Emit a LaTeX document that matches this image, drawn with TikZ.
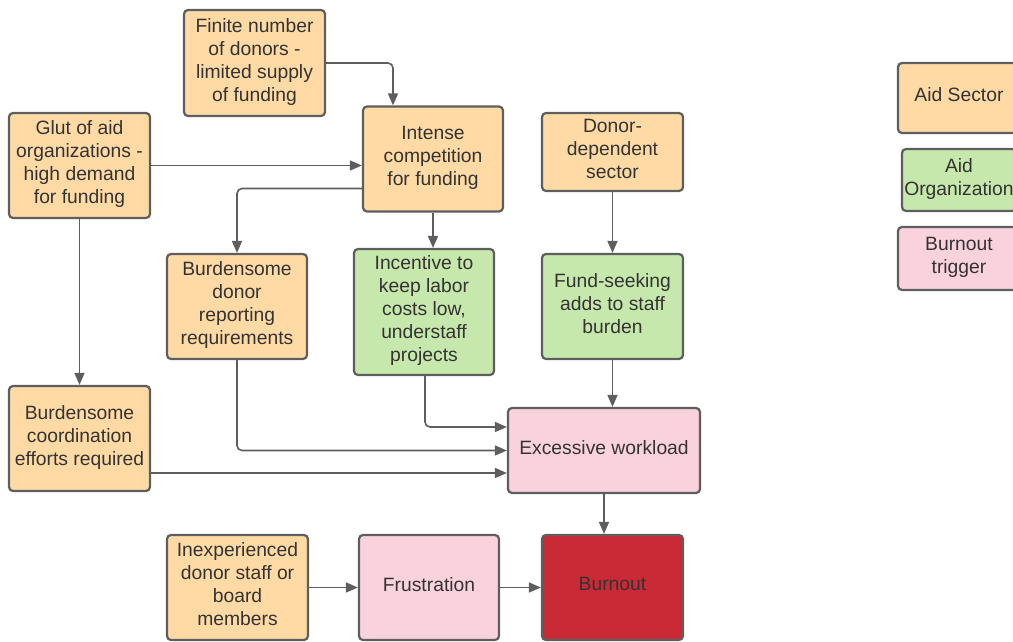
\documentclass[tikz,border=0pt]{standalone}
\usepackage{fontspec}
\setmainfont{Liberation Sans}
\usetikzlibrary{arrows.meta}
\definecolor{orangef}{HTML}{FFDAA5}
\definecolor{greenf}{HTML}{C7E8AC}
\definecolor{pinkf}{HTML}{F9D2DE}
\definecolor{redf}{HTML}{C92A36}
\definecolor{bord}{HTML}{5E5E5E}
\definecolor{txt}{HTML}{333333}
\tikzset{
  box/.style={draw=bord, line width=2.2pt, rounded corners=4pt, align=center, inner sep=0pt,
    font=\fontsize{19.3}{23}\selectfont, text=txt, text depth=6.5pt},
  sec/.style={box, fill=orangef},
  org/.style={box, fill=greenf},
  trig/.style={box, fill=pinkf},
  arr/.style={draw=bord, line width=1.6pt, rounded corners=5pt, -{Triangle[length=12pt,width=10pt]}}
}
\begin{document}
\begin{tikzpicture}[x=1pt,y=-1pt]
\useasboundingbox (0,0) rectangle (1013,642);
\node[sec, minimum width=141pt, minimum height=106pt] (finite) at (254.5,63) {Finite number\\of donors -\\limited supply\\of funding};
\node[sec, minimum width=141pt, minimum height=105pt] (glut) at (79.5,165.5) {Glut of aid\\organizations -\\high demand\\for funding};
\node[sec, minimum width=140pt, minimum height=105pt] (intense) at (433,159) {Intense\\competition\\for funding};
\node[sec, minimum width=141pt, minimum height=78pt] (donor) at (612.5,152) {Donor-\\dependent\\sector};
\node[sec, minimum width=140pt, minimum height=105pt] (report) at (237,306.5) {Burdensome\\donor\\reporting\\requirements};
\node[org, minimum width=140pt, minimum height=126pt] (incent) at (424,312) {Incentive to\\keep labor\\costs low,\\understaff\\projects};
\node[org, minimum width=141pt, minimum height=105pt] (fund) at (612.5,306.5) {Fund-seeking\\adds to staff\\burden};
\node[sec, minimum width=141pt, minimum height=105pt] (coord) at (79.5,438.5) {Burdensome\\coordination\\efforts required};
\node[trig, minimum width=192pt, minimum height=85pt] (excess) at (604,450.5) {Excessive workload};
\node[sec, minimum width=141pt, minimum height=105pt] (inexp) at (237.5,587.5) {Inexperienced\\donor staff or\\board\\members};
\node[trig, minimum width=140pt, minimum height=105pt] (frust) at (429,587.5) {Frustration};
\node[box, fill=redf, minimum width=141pt, minimum height=105pt] (burn) at (612.5,587.5) {Burnout};
% legend
\node[sec, minimum width=122pt, minimum height=70pt] (lsec) at (959,98) {Aid Sector};
\node[org, minimum width=114pt, minimum height=62pt] (lorg) at (959,180) {Aid\\Organization};
\node[trig, minimum width=122pt, minimum height=63pt] (ltrig) at (959,258.5) {Burnout\\trigger};
% connectors
\coordinate (coordout) at ([yshift=-34.5pt]coord.east);
\draw[arr] (finite.east) -| ([xshift=-40pt]intense.north);
\draw[arr] (glut.east) -- (intense.west |- glut.east);
\draw[arr] ([yshift=-29.5pt]intense.west) -| (report.north);
\draw[arr] (intense.south) -- (incent.north -| intense.south);
\draw[arr] (donor.south) -- (fund.north);
\draw[arr] (glut.south) -- (coord.north);
\draw[arr] ([xshift=1pt]incent.south) |- ([yshift=23.5pt]excess.west);
\draw[arr] (report.south) |- (excess.west);
\draw[arr] (coordout) -- (excess.west |- coordout);
\draw[arr] (fund.south) -- (excess.north -| fund.south);
\draw[arr] (excess.south) -- (burn.north -| excess.south);
\draw[arr] (inexp.east) -- (frust.west);
\draw[arr] (frust.east) -- (burn.west);
\end{tikzpicture}
\end{document}
